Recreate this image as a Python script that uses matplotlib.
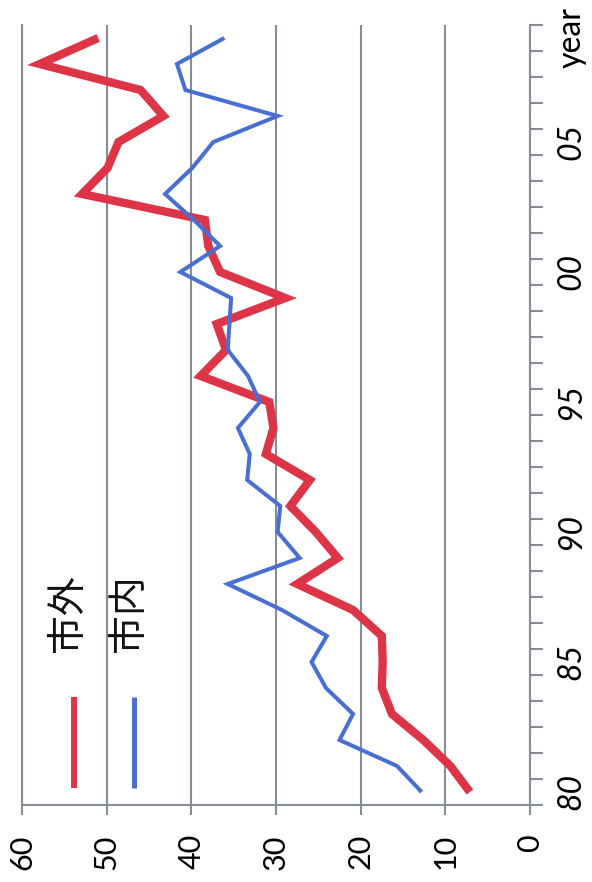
import matplotlib
matplotlib.use("Agg")
import matplotlib.pyplot as plt
from matplotlib.lines import Line2D
from matplotlib.ticker import FixedLocator

years = list(range(1980, 2010))
year_labels = ["80", "85", "90", "95", "00", "05", "year"]
year_label_pos = [0, 5, 10, 15, 20, 25, 29]

outer = [7.1, 9.4, 12.6, 16.3, 17.5, 17.4, 17.5, 20.9, 27.5, 22.7,
         25.3, 28.3, 26.0, 31.2, 30.3, 30.8, 38.9, 35.9, 37.0, 28.9,
         36.6, 38.0, 38.4, 52.9, 49.9, 48.6, 43.3, 46.0, 57.9, 51.0]
inner = [12.8, 15.7, 22.5, 20.9, 24.1, 25.8, 24.0, 29.3, 35.7, 27.2,
         29.8, 29.5, 33.4, 33.1, 34.5, 31.9, 33.3, 35.7, 35.5, 35.3,
         41.3, 36.6, 39.7, 43.1, 39.9, 37.4, 29.8, 40.7, 41.7, 36.1]
series_names = ["市外", "市内"]
value_ticks = [0, 10, 20, 30, 40, 50, 60]

RED = "#de3448"
BLUE = "#4a6fd2"
GRID = "#878c96"

fig = plt.figure(figsize=(5.92, 8.82), dpi=100)
ax = fig.add_axes([22/592, 1-805/882, (530-22)/592, (805-25)/882])

idx = list(range(len(years)))
ax.plot(outer, idx, color=RED, lw=6.0, solid_joinstyle="miter", solid_capstyle="butt", zorder=3)
ax.plot(inner, idx, color=BLUE, lw=2.9, solid_joinstyle="miter", solid_capstyle="butt", zorder=3)

ax.set_xlim(60, 0)
ax.set_ylim(-0.5, len(years) - 0.5)

# value axis
ax.set_xticks(value_ticks)
ax.set_xticklabels([str(v) for v in value_ticks], rotation=90, fontsize=22,
                   family=["Lato", "DejaVu Sans"], va="top", ha="center")
ax.tick_params(axis="x", direction="out", length=7, width=1.5, color=GRID, pad=14)
ax.grid(axis="x", color=GRID, lw=1.5, zorder=1)

# category axis on the right
ax.yaxis.tick_right()
ax.set_yticks(year_label_pos)
ax.set_yticklabels(year_labels, rotation=90, fontsize=23,
                   family=["Lato", "DejaVu Sans"], va="center", ha="left")
for lab in ax.get_yticklabels()[:-1]:
    lab.set_style("italic")
ax.yaxis.set_minor_locator(FixedLocator([i - 0.5 for i in range(len(years) + 1)]))
ax.tick_params(axis="y", which="major", length=0, pad=19)
ax.tick_params(axis="y", which="minor", direction="out", length=9, width=1.5, color=GRID)

for s in ["left", "right", "bottom"]:
    ax.spines[s].set_color(GRID)
    ax.spines[s].set_linewidth(1.5)
ax.spines["top"].set_visible(False)

# legend (drawn rotated)
for xline, xtext, col, lw, name in [(0.102, 0.090, RED, 4.3, series_names[0]),
                                     (0.220, 0.210, BLUE, 3.6, series_names[1])]:
    ax.add_line(Line2D([xline, xline], [0.022, 0.138], transform=ax.transAxes,
                       color=col, lw=lw, solid_capstyle="butt", zorder=4))
    ax.text(xtext, 0.246, name, transform=ax.transAxes, rotation=90,
            fontsize=28, family=["Noto Sans CJK JP", "DejaVu Sans"],
            ha="center", va="center", color="#111111", zorder=4)

fig.savefig("out.png", dpi=100)
